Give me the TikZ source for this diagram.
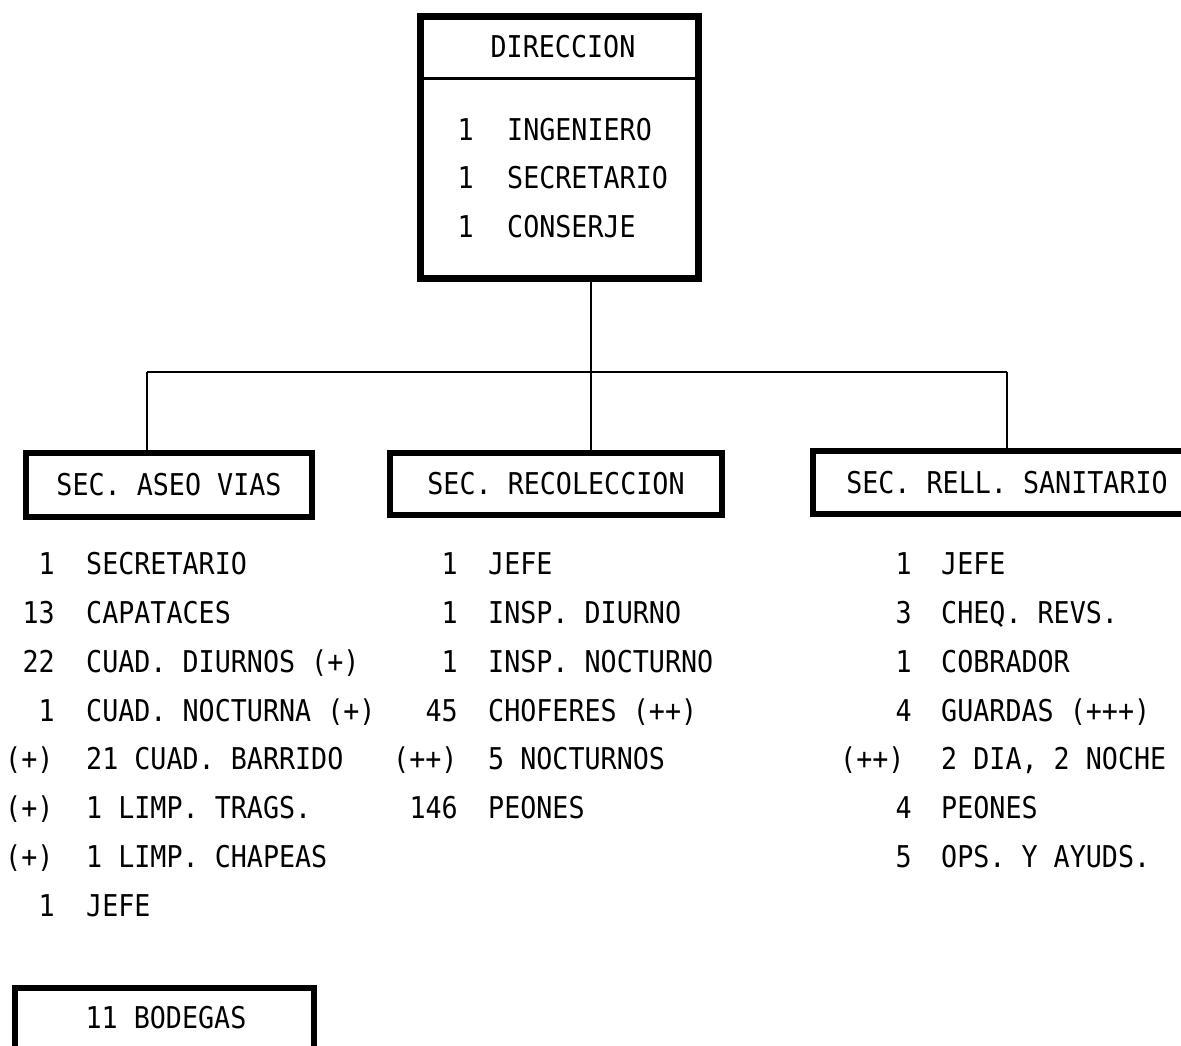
\documentclass[tikz,border=0pt]{standalone}
\usepackage{fontspec}
\newfontfamily\typer[FakeStretch=0.89]{DejaVu Sans Mono}
\begin{document}
\begin{tikzpicture}[x=1pt,y=-1pt,
  txt/.style={font=\typer\fontsize{30}{36}\selectfont, inner sep=0pt},
  item/.style={txt, anchor=base west},
  qty/.style={txt, anchor=base east},
  frame/.style={draw, line width=6.5pt, inner sep=0pt, rectangle},
  wire/.style={line width=1.8pt}]
\fill[white] (0,0) rectangle (1181,1046);
\useasboundingbox (0,0) rectangle (1181,1046);

% ---------- head office ----------
\node[frame, minimum width=278pt, minimum height=262pt] (dir) at (559.5,147.5) {};
\draw[line width=3pt] (dir.west |- 0,79) -- (dir.east |- 0,79);
\node[txt] (dirh) at (563,47) {DIRECCION};
\node[qty]  (d1n) at (474,141) {1};
\node[item] (d1t) at (507,141) {INGENIERO};
\node[qty]  (d2n) at (474,189) {1};
\node[item] (d2t) at (507,189) {SECRETARIO};
\node[qty]  (d3n) at (474,237) {1};
\node[item] (d3t) at (507,237) {CONSERJE};

% ---------- sections ----------
\node[frame, txt, minimum width=286pt, minimum height=64pt] (aseo) at (169,485) {SEC. ASEO VIAS};
\node[frame, txt, minimum width=332pt, minimum height=62pt] (rec) at (556,484) {SEC. RECOLECCION};
\node[frame, txt, minimum width=388pt, minimum height=63pt] (rell) at (1007,482.5) {SEC. RELL. SANITARIO};

% ---------- connectors ----------
\coordinate (jl) at (147,372);
\coordinate (jm) at (591,372);
\coordinate (jr) at (1007,372);
\draw[wire] (jm |- dir.south) -- (jm |- rec.north);
\draw[wire] (jl) -- (jr);
\draw[wire] (jl) -- (jl |- aseo.north);
\draw[wire] (jr) -- (jr |- rell.north);

% ---------- street cleaning staff ----------
\node[qty]  (a1n) at (55,574) {1};
\node[item] (a1t) at (86,574) {SECRETARIO};
\node[qty]  (a2n) at (55,623) {13};
\node[item] (a2t) at (86,623) {CAPATACES};
\node[qty]  (a3n) at (55,672) {22};
\node[item] (a3t) at (86,672) {CUAD. DIURNOS (+)};
\node[qty]  (a4n) at (55,721) {1};
\node[item] (a4t) at (86,721) {CUAD. NOCTURNA (+)};
\node[item] (a5n) at (5,769) {(+)};
\node[item] (a5t) at (86,769) {21 CUAD. BARRIDO};
\node[item] (a6n) at (5,818) {(+)};
\node[item] (a6t) at (86,818) {1 LIMP. TRAGS.};
\node[item] (a7n) at (5,867) {(+)};
\node[item] (a7t) at (86,867) {1 LIMP. CHAPEAS};
\node[qty]  (a8n) at (55,916) {1};
\node[item] (a8t) at (86,916) {JEFE};

% ---------- collection staff ----------
\node[qty]  (r1n) at (458,574) {1};
\node[item] (r1t) at (488,574) {JEFE};
\node[qty]  (r2n) at (458,623) {1};
\node[item] (r2t) at (488,623) {INSP. DIURNO};
\node[qty]  (r3n) at (458,672) {1};
\node[item] (r3t) at (488,672) {INSP. NOCTURNO};
\node[qty]  (r4n) at (458,721) {45};
\node[item] (r4t) at (488,721) {CHOFERES (++)};
\node[item] (r5n) at (393,769) {(++)};
\node[item] (r5t) at (488,769) {5 NOCTURNOS};
\node[qty]  (r6n) at (458,818) {146};
\node[item] (r6t) at (488,818) {PEONES};

% ---------- landfill staff ----------
\node[qty]  (s1n) at (912,574) {1};
\node[item] (s1t) at (941,574) {JEFE};
\node[qty]  (s2n) at (912,623) {3};
\node[item] (s2t) at (941,623) {CHEQ. REVS.};
\node[qty]  (s3n) at (912,672) {1};
\node[item] (s3t) at (941,672) {COBRADOR};
\node[qty]  (s4n) at (912,721) {4};
\node[item] (s4t) at (941,721) {GUARDAS (+++)};
\node[item] (s5n) at (840,769) {(++)};
\node[item] (s5t) at (941,769) {2 DIA, 2 NOCHE};
\node[qty]  (s6n) at (912,818) {4};
\node[item] (s6t) at (941,818) {PEONES};
\node[qty]  (s7n) at (912,867) {5};
\node[item] (s7t) at (941,867) {OPS. Y AYUDS.};

% ---------- stores ----------
\node[frame, minimum width=299pt, minimum height=80pt] (bod) at (164.5,1028) {};
\node[txt] (bodt) at (166,1018) {11 BODEGAS};
\end{tikzpicture}
\end{document}
